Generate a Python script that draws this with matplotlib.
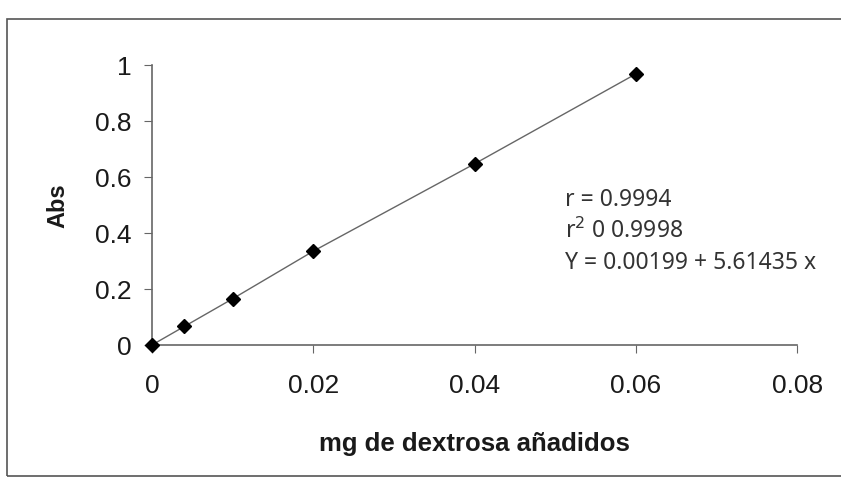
import matplotlib
matplotlib.use("Agg")
import matplotlib.pyplot as plt
from matplotlib.patches import Rectangle

# data
mg_dextrosa = [0.0, 0.004, 0.01, 0.02, 0.04, 0.06]
absorbancia = [0.0, 0.066, 0.165, 0.335, 0.647, 0.968]
x_ticks = [0, 0.02, 0.04, 0.06, 0.08]
x_tick_labels = ["0", "0.02", "0.04", "0.06", "0.08"]
y_ticks = [0, 0.2, 0.4, 0.6, 0.8, 1]
y_tick_labels = ["0", "0.2", "0.4", "0.6", "0.8", "1"]
stats_lines = ["r = 0.9994", "r$^2$ 0 0.9998", "Y = 0.00199 + 5.61435 x"]

plt.rcParams["font.family"] = ["Liberation Sans", "DejaVu Sans"]

fig = plt.figure(figsize=(8.41, 4.81), dpi=100)
ax = fig.add_axes([0.181, 0.281, 0.767, 0.582])

# outer frame of the chart area
fig.patches.append(Rectangle((0.008, 0.008), 1.2, 0.95, transform=fig.transFigure,
                             fill=False, edgecolor="#555555", linewidth=1.2))

ax.plot(mg_dextrosa, absorbancia, color="#666666", linewidth=1.0, zorder=2)
ax.plot(mg_dextrosa, absorbancia, linestyle="none", marker="D", markersize=7,
        color="black", zorder=3, clip_on=False)

ax.set_xlim(0, 0.08)
ax.set_ylim(0, 1)
ax.set_xticks(x_ticks)
ax.set_xticklabels(x_tick_labels)
ax.set_yticks(y_ticks)
ax.set_yticklabels(y_tick_labels)

for side in ["top", "right"]:
    ax.spines[side].set_visible(False)
for side in ["left", "bottom"]:
    ax.spines[side].set_color("#666666")
    ax.spines[side].set_linewidth(1.2)

ax.tick_params(axis="both", direction="out", length=6, color="#666666",
               labelsize=19, labelcolor="#1a1a1a")
ax.tick_params(axis="x", pad=14)
ax.tick_params(axis="y", pad=9)

ax.set_xlabel("mg de dextrosa añadidos", fontsize=18.5, fontweight="bold",
              color="#1a1a1a", labelpad=25)
ax.set_ylabel("Abs", fontsize=17, fontweight="bold", color="#1a1a1a", labelpad=18)

ax.text(0.0512, 0.565, "\n".join(stats_lines), fontsize=16.5, color="#333333",
        linespacing=1.38, va="top", ha="left", family=["Noto Sans", "DejaVu Sans"])

fig.savefig("out.png", dpi=100, facecolor="white")
